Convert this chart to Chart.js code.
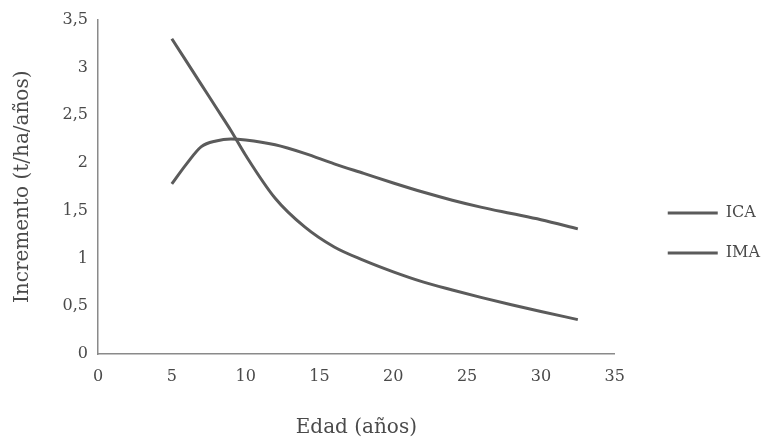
<!DOCTYPE html>
<html>
<head>
<meta charset="utf-8">
<script src="https://cdn.jsdelivr.net/npm/chart.js@4/dist/chart.umd.min.js"></script>
<style>
  html, body { margin: 0; padding: 0; background: #ffffff; }
  #wrap { width: 764px; height: 448px; }
</style>
</head>
<body>
<div id="wrap"><canvas id="c" width="764" height="448"></canvas></div>
<script>
// Data
const ages = [5, 6, 7, 8, 9, 10, 12, 14, 16, 18, 20, 22, 24, 26, 28, 30, 32.5];
const ica  = [3.30, 3.06, 2.82, 2.58, 2.34, 2.08, 1.63, 1.33, 1.12, 0.98, 0.86, 0.755, 0.67, 0.59, 0.515, 0.445, 0.36];
const ima  = [1.78, 1.99, 2.17, 2.23, 2.25, 2.24, 2.19, 2.10, 1.99, 1.89, 1.79, 1.695, 1.61, 1.535, 1.47, 1.405, 1.31];
const seriesNames = ['ICA', 'IMA'];
const xTicks = [0, 5, 10, 15, 20, 25, 30, 35];
const yTicks = [0, 0.5, 1, 1.5, 2, 2.5, 3, 3.5];
const xTitle = 'Edad (años)';
const yTitle = 'Incremento (t/ha/años)';

const lineColor = '#5b5b5b';
const textColor = '#4a4a4a';
const serif = "'DejaVu Serif', 'Liberation Serif', serif";

const toPoints = (vals) => ages.map((a, i) => ({ x: a, y: vals[i] }));
const fmt = (v) => String(v).replace('.', ',');

new Chart(document.getElementById('c'), {
  type: 'line',
  data: {
    datasets: [
      { label: seriesNames[0], data: toPoints(ica), borderColor: lineColor, backgroundColor: lineColor,
        borderWidth: 3, pointRadius: 0, cubicInterpolationMode: 'monotone', fill: false },
      { label: seriesNames[1], data: toPoints(ima), borderColor: lineColor, backgroundColor: lineColor,
        borderWidth: 3, pointRadius: 0, cubicInterpolationMode: 'monotone', fill: false }
    ]
  },
  options: {
    responsive: false,
    animation: false,
    layout: { padding: { top: 18, left: 0, right: -6, bottom: 0 } },
    plugins: {
      tooltip: { enabled: false },
      legend: {
        position: 'right',
        align: 'center',
        labels: {
          boxWidth: 50,
          boxHeight: 3,
          padding: 24,
          color: textColor,
          font: { family: serif, size: 16 },
          generateLabels: (chart) => chart.data.datasets.map((ds, i) => ({
            text: ds.label, fillStyle: ds.borderColor, strokeStyle: ds.borderColor,
            lineWidth: 0, hidden: false, datasetIndex: i, fontColor: textColor
          }))
        }
      }
    },
    scales: {
      x: {
        type: 'linear',
        min: 0, max: 35,
        afterFit: (s) => { s.height = 94; },
        afterBuildTicks: (s) => { s.ticks = xTicks.map(v => ({ value: v })); },
        grid: { display: false, drawTicks: false },
        border: { display: true, color: '#8a8a8a', width: 1.5 },
        ticks: { padding: 13, color: textColor, font: { family: serif, size: 16 }, callback: (v) => fmt(v) },
        title: { display: true, text: xTitle, color: textColor, font: { family: serif, size: 20 },
                 padding: { top: 0, bottom: 8 } }
      },
      y: {
        type: 'linear',
        min: 0, max: 3.5,
        afterFit: (s) => { s.width = 98; },
        afterBuildTicks: (s) => { s.ticks = yTicks.map(v => ({ value: v })); },
        grid: { display: false, drawTicks: false },
        border: { display: true, color: '#8a8a8a', width: 1.5 },
        ticks: { padding: 10, color: textColor, font: { family: serif, size: 16 }, callback: (v) => fmt(v) },
        title: { display: true, text: yTitle, color: textColor, font: { family: serif, size: 20 },
                 padding: { top: 11, bottom: 0 } }
      },
      spacer: {
        type: 'linear',
        position: 'right',
        display: true,
        weight: 0,
        afterFit: (s) => { s.width = 29; },
        grid: { display: false, drawTicks: false },
        border: { display: false },
        ticks: { display: false }
      }
    }
  }
});
</script>
</body>
</html>
